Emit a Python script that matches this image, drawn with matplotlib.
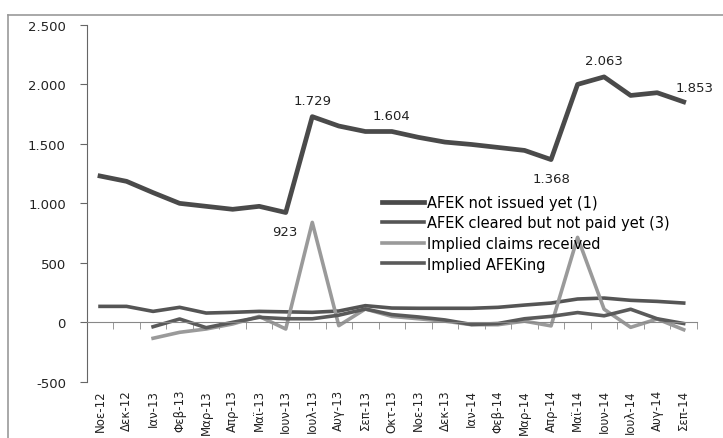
import matplotlib
matplotlib.use("Agg")
import matplotlib.pyplot as plt
import numpy as np
from matplotlib.lines import Line2D
from matplotlib.ticker import FuncFormatter

months = ["Νοε-12", "Δεκ-12", "Ιαν-13", "Φεβ-13", "Μαρ-13", "Απρ-13", "Μαϊ-13",
          "Ιουν-13", "Ιουλ-13", "Αυγ-13", "Σεπ-13", "Οκτ-13", "Νοε-13", "Δεκ-13",
          "Ιαν-14", "Φεβ-14", "Μαρ-14", "Απρ-14", "Μαϊ-14", "Ιουν-14", "Ιουλ-14",
          "Αυγ-14", "Σεπ-14"]

not_issued = [1230, 1185, 1090, 1000, 975, 950, 975, 923, 1729, 1650, 1604, 1604,
              1555, 1515, 1495, 1470, 1445, 1368, 2000, 2063, 1907, 1930, 1853]
cleared_not_paid = [134, 134, 92, 126, 78, 84, 92, 88, 84, 95, 140, 120,
                    118, 118, 118, 126, 145, 162, 196, 204, 185, 176, 162]
claims_received = [None, None, -134, -84, -56, -14, 50, -56, 840, -28, 112, 50,
                   30, 10, -20, -20, 10, -30, 714, 110, -42, 28, -62]
afeking = [None, None, -37, 28, -45, 0, 42, 30, 30, 60, 112, 65,
           45, 20, -18, -10, 30, 50, 82, 55, 110, 30, -10]

# values that carry a label: (index, text, dx, dy, va)
labels = [(7, "923", -1, -9, "top"), (8, "1.729", 0, 7, "bottom"),
          (11, "1.604", 0, 7, "bottom"), (17, "1.368", 0, -9, "top"),
          (19, "2.063", 0, 7, "bottom"), (22, "1.853", 8, 6, "bottom")]

def to_arr(v):
    return np.array([np.nan if x is None else x for x in v], dtype=float)

x = np.arange(len(months))

fig = plt.figure(figsize=(7.23, 4.39), dpi=100)
ax = fig.add_axes([0.120, 0.128, 0.844, 0.813])

ax.plot(x, not_issued, color="#4a4a4a", lw=3.4, label="AFEK not issued yet (1)")
ax.plot(x, cleared_not_paid, color="#555555", lw=2.6,
        label="AFEK cleared but not paid yet (3)")
ax.plot(x, to_arr(claims_received), color="#9a9a9a", lw=2.6,
        label="Implied claims received")
ax.plot(x, to_arr(afeking), color="#5a5a5a", lw=2.6,
        label="Implied AFEKing")

for i, txt, dx, dy, va in labels:
    ax.annotate(txt, (x[i], not_issued[i]), xytext=(dx, dy),
                textcoords="offset points", ha="center", va=va,
                fontsize=9.5, color="#222222")

ax.set_ylim(-500, 2500)
ax.set_yticks(np.arange(-500, 2501, 500))
ax.yaxis.set_major_formatter(FuncFormatter(lambda v, p: f"{int(v):,}".replace(",", ".")))
ax.set_xlim(-0.5, len(months) - 0.5)

# category axis crosses at zero, labels stay low
ax.spines["bottom"].set_position(("data", 0))
ax.spines["bottom"].set_color("#888888")
ax.spines["top"].set_visible(False)
ax.spines["right"].set_visible(False)
ax.spines["left"].set_color("#666666")
ax.set_xticks(x)
ax.set_xticklabels(months, rotation=90, fontsize=8.5, color="#222222")
ax.set_xticks(np.arange(-0.5, len(months)), minor=True)
ax.tick_params(axis="x", which="major", length=0, pad=48)
ax.tick_params(axis="x", which="minor", length=5, direction="out", color="#888888")
ax.tick_params(axis="y", length=5, color="#666666", labelsize=9.5, labelcolor="#222222", pad=10)

leg = ax.legend(loc="upper left", bbox_to_anchor=(0.474, 0.54), frameon=False,
                fontsize=10.5, handlelength=2.9, handletextpad=0.2,
                labelspacing=0.38, borderaxespad=0)

# outer frame of the pasted chart
fig.add_artist(Line2D([0.011, 0.011], [0.0, 0.964], color="#999999", lw=1.2))
fig.add_artist(Line2D([0.011, 1.0], [0.964, 0.964], color="#999999", lw=1.2))

fig.savefig("out.png", dpi=100)
